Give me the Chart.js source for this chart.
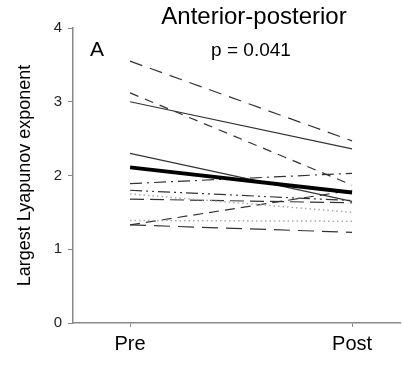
<!DOCTYPE html>
<html>
<head>
<meta charset="utf-8">
<script src="https://cdn.jsdelivr.net/npm/chart.js@4/dist/chart.umd.min.js"></script>
<style>
  html, body { margin: 0; padding: 0; background: #fff; }
  #wrap { width: 402px; height: 365px; }
</style>
</head>
<body>
<div id="wrap"><canvas id="lyap-chart"></canvas></div>
<script>
const categories = ["Pre", "Post"];
const preValues  = [3.55, 3.00, 3.12, 2.30, 2.11, 1.89, 1.80, 1.75, 1.68, 1.39, 1.33, 1.33];
const postValues = [2.47, 2.36, 1.87, 1.65, 1.77, 2.03, 1.66, 1.50, 1.63, 1.38, 1.23, 1.80];
const yTicks = [0, 1, 2, 3, 4];

// line look for each subject, same order as the values
const styles = [
  { dash: [13, 8], color: "#333", width: 1.2 },
  { dash: [], color: "#333", width: 1.2 },
  { dash: [9, 7], color: "#333", width: 1.2 },
  { dash: [], color: "#333", width: 1.2 },
  { dash: [], color: "#000", width: 4 },
  { dash: [12, 5, 2, 5], color: "#333", width: 1.2 },
  { dash: [12, 4, 2, 4, 2, 4], color: "#333", width: 1.2 },
  { dash: [1.5, 3], color: "#aaa", width: 1.5 },
  { dash: [14, 6], color: "#333", width: 1.2 },
  { dash: [1.5, 3], color: "#aaa", width: 1.5 },
  { dash: [16, 8], color: "#333", width: 1.2 },
  { dash: [10, 6], color: "#333", width: 1.2 },
];

const font = "'Liberation Sans', Arial, sans-serif";

const datasets = preValues.map((pre, i) => ({
  data: [{ x: 0, y: pre }, { x: 1, y: postValues[i] }],
  borderColor: styles[i].color,
  borderWidth: styles[i].width,
  borderDash: styles[i].dash,
  pointRadius: 0,
  fill: false,
  order: styles[i].width > 2 ? 0 : 1,
}));

const labels = {
  id: "labels",
  afterDraw(chart) {
    const { ctx } = chart;
    ctx.save();
    ctx.fillStyle = "#000";
    ctx.textAlign = "center";
    ctx.textBaseline = "middle";
    ctx.font = "24px " + font;
    ctx.fillText("Anterior-posterior", 254, 17);
    ctx.font = "19px " + font;
    ctx.fillText("p = 0.041", 251, 51);
    ctx.font = "21px " + font;
    ctx.fillText("A", 97, 50);
    ctx.restore();
  },
};

new Chart(document.getElementById("lyap-chart"), {
  type: "line",
  data: { datasets },
  plugins: [labels],
  options: {
    responsive: true,
    maintainAspectRatio: false,
    animation: false,
    layout: { padding: { top: 28, right: 2 } },
    plugins: { legend: { display: false }, tooltip: { enabled: false } },
    scales: {
      x: {
        type: "linear",
        min: -0.257,
        max: 1.216,
        afterBuildTicks: (scale) => {
          scale.ticks = categories.map((c, i) => ({ value: i }));
        },
        afterFit: (scale) => { scale.height = 42; },
        grid: { drawOnChartArea: false, drawTicks: true, tickLength: 4, color: "#888" },
        border: { color: "#888", width: 1.5 },
        ticks: {
          padding: 5,
          color: "#000",
          font: { family: font, size: 20 },
          callback: (v) => categories[v],
        },
      },
      y: {
        min: 0,
        max: 4,
        afterBuildTicks: (scale) => {
          scale.ticks = yTicks.map((v) => ({ value: v }));
        },
        afterFit: (scale) => { scale.width = 73; },
        grid: { drawOnChartArea: false, drawTicks: true, tickLength: 5, color: "#888" },
        border: { color: "#888", width: 1.5 },
        ticks: {
          padding: 6,
          color: "#222",
          font: { family: font, size: 15 },
        },
        title: {
          display: true,
          text: "Largest Lyapunov exponent",
          color: "#000",
          font: { family: font, size: 18 },
          padding: { top: 14, bottom: 0 },
        },
      },
    },
  },
});
</script>
</body>
</html>
